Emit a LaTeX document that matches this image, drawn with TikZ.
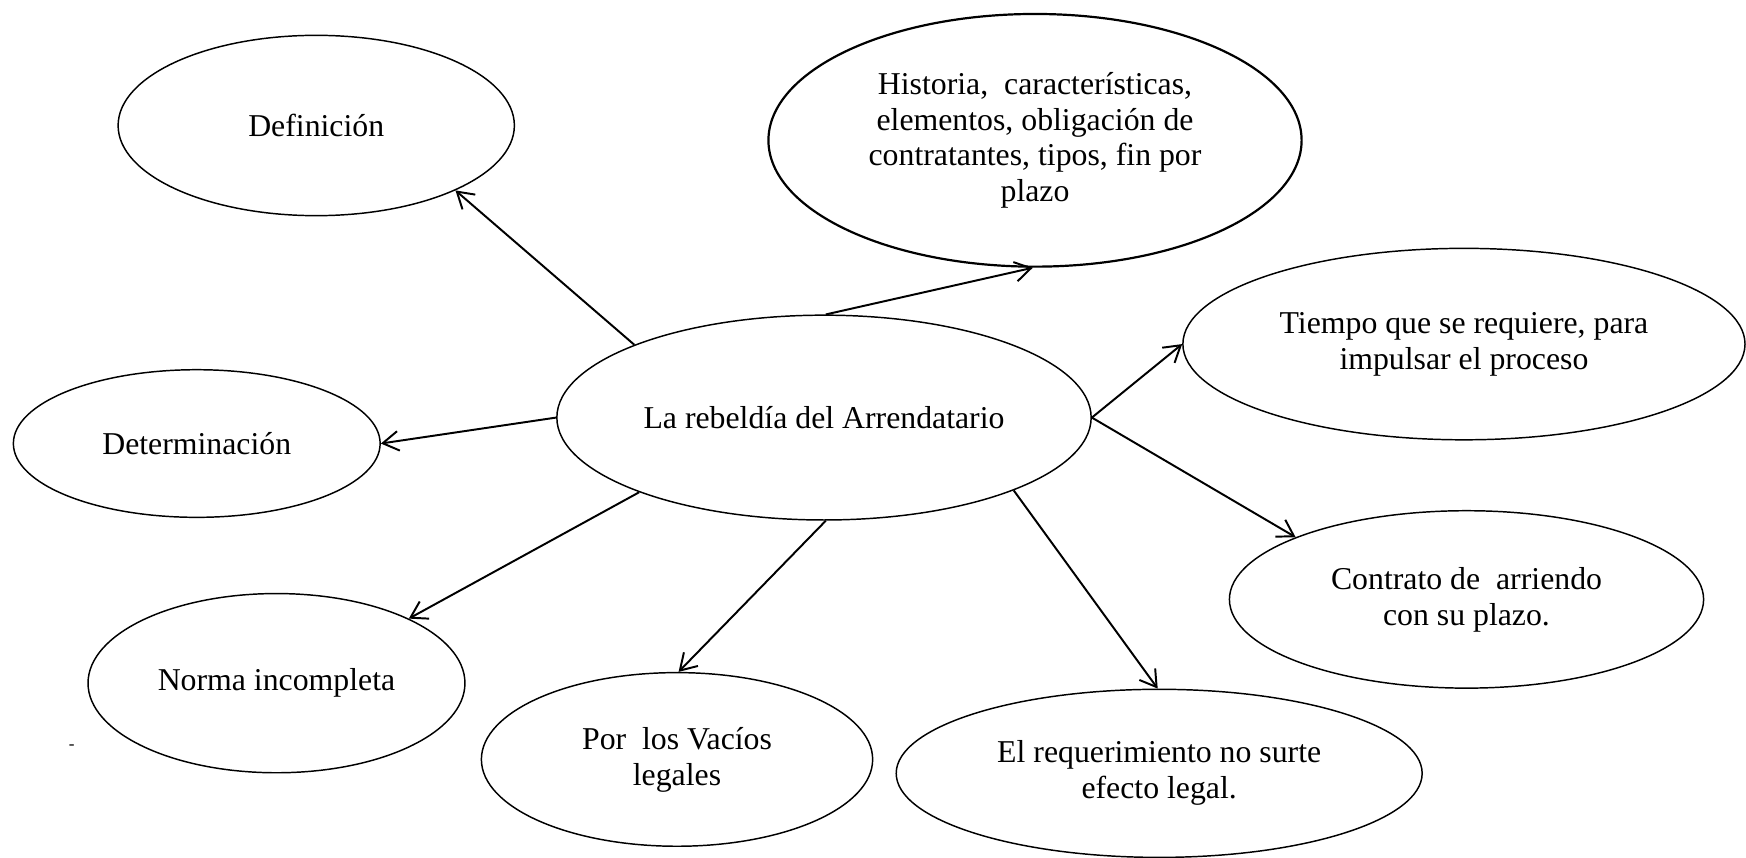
\documentclass[tikz,border=0pt]{standalone}
\usepackage{fontspec}
\setmainfont{Liberation Serif}
\usetikzlibrary{arrows.meta}
\usetikzlibrary{shapes.geometric}

\begin{document}
\begin{tikzpicture}[x=0.016cm,y=-0.016cm]
		\tikzset{bubble/.style = {shape=ellipse,draw,line width=0.6pt,inner sep=0pt,align=center,font=\fontsize{13}{14.7}\selectfont}}
		\tikzset{edge/.style = {->,line width=0.8pt,>={Straight Barb[length=6.5pt,width=8pt]}}}
		\useasboundingbox (0,0) rectangle (1568,770);
		% vertices
		\node[bubble,minimum width=7.68cm,minimum height=2.944cm] (a) at (740,375) {La rebeldía del Arrendatario};
		\node[bubble,minimum width=5.696cm,minimum height=2.592cm] (b) at (284,112.7) {Definición};
		\node[bubble,line width=0.9pt,minimum width=7.664cm,minimum height=3.632cm] (c) at (929.5,126) {Historia,\ \ características,\\ elementos, obligación de\\ contratantes, tipos, fin por\\ plazo};
		\node[bubble,minimum width=8.08cm,minimum height=2.752cm] (d) at (1314.7,309) {Tiempo que se requiere, para\\ impulsar el proceso};
		\node[bubble,minimum width=5.272cm,minimum height=2.122cm] (e) at (176.7,398.3) {Determinación};
		\node[bubble,minimum width=6.816cm,minimum height=2.55cm] (f) at (1317,538.3) {Contrato de\ \ arriendo\\ con su plazo.};
		\node[bubble,minimum width=5.418cm,minimum height=2.576cm] (g) at (248.3,613.5) {Norma incompleta};
		\node[bubble,minimum width=5.624cm,minimum height=2.496cm] (h) at (608,682) {Por\ \ los Vacíos\\ legales};
		\node[bubble,minimum width=7.56cm,minimum height=2.416cm] (i) at (1041,694.5) {El requerimiento no surte\\ efecto legal.};
		
		\node[inner sep=0pt,font=\scriptsize] (dot) at (64.5,671) {-};
		
		%edges
		\draw[edge] (a.159) to (b.335);
		\draw[edge] (a.89) to (c.269);
		\draw[edge] (a.0) to (d.180);
		\draw[edge] (a.180) to (e.0);
		\draw[edge] (a.0) to (f.160);
		\draw[edge] (a.202) to (g.26);
		\draw[edge] (a.271) to (h.89);
		\draw[edge] (a.339) to (i.91);
\end{tikzpicture}
\end{document}
